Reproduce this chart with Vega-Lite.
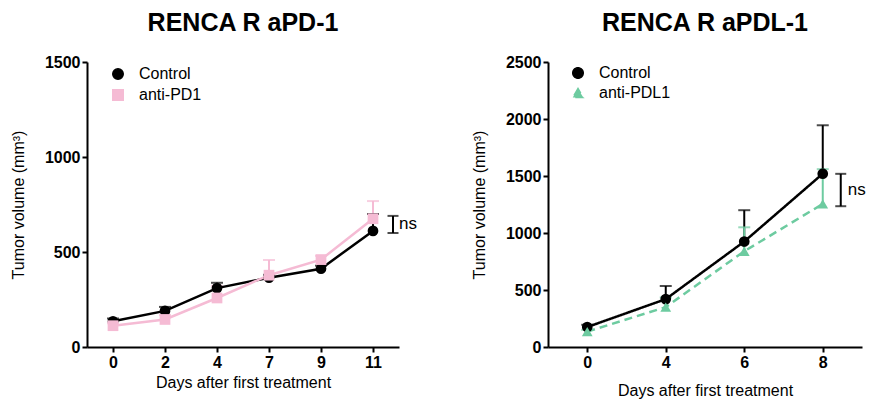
{
  "$schema": "https://vega.github.io/schema/vega-lite/v6.json",
  "padding": {"left": 10, "top": 11, "right": 5, "bottom": 5},
  "spacing": 54,
  "config": {
    "font": "Liberation Sans",
    "view": {"stroke": null},
    "axis": {"domainColor": "black", "domainWidth": 2, "tickColor": "black", "tickWidth": 2, "tickSize": 5, "labelFont": "Liberation Sans", "labelFontSize": 16, "labelFontWeight": "bold", "labelColor": "black", "titleFont": "Liberation Sans", "titleFontSize": 16, "titleFontWeight": "normal", "titleColor": "black", "grid": false, "labelPadding": 2, "format": "d"},
    "title": {"font": "Liberation Sans", "fontSize": 25, "fontWeight": "bold", "color": "black", "offset": 18},
    "legend": {"labelFont": "Liberation Sans", "labelFontSize": 16, "labelColor": "black", "symbolSize": 110, "symbolOpacity": 1, "padding": 0, "rowPadding": 3, "labelOffset": 13}
  },
  "datasets": {
    "pd1": [
      {"day": 0, "group": "Control", "mean": 135, "upper": 150},
      {"day": 2, "group": "Control", "mean": 190, "upper": 211},
      {"day": 4, "group": "Control", "mean": 310, "upper": 338},
      {"day": 7, "group": "Control", "mean": 365, "upper": 380},
      {"day": 9, "group": "Control", "mean": 412, "upper": 428},
      {"day": 11, "group": "Control", "mean": 611, "upper": 700},
      {"day": 0, "group": "anti-PD1", "mean": 112, "upper": 125},
      {"day": 2, "group": "anti-PD1", "mean": 145, "upper": 168},
      {"day": 4, "group": "anti-PD1", "mean": 258, "upper": 322},
      {"day": 7, "group": "anti-PD1", "mean": 378, "upper": 458},
      {"day": 9, "group": "anti-PD1", "mean": 460, "upper": 480},
      {"day": 11, "group": "anti-PD1", "mean": 675, "upper": 768}
    ],
    "pdl1": [
      {"day": 0, "group": "Control", "mean": 175, "upper": 195},
      {"day": 4, "group": "Control", "mean": 420, "upper": 535},
      {"day": 6, "group": "Control", "mean": 925, "upper": 1200},
      {"day": 8, "group": "Control", "mean": 1520, "upper": 1945},
      {"day": 0, "group": "anti-PDL1", "mean": 135, "upper": 150},
      {"day": 4, "group": "anti-PDL1", "mean": 350, "upper": 435},
      {"day": 6, "group": "anti-PDL1", "mean": 840, "upper": 1050},
      {"day": 8, "group": "anti-PDL1", "mean": 1255, "upper": 1560}
    ],
    "ns1": [{"day": 11, "low": 600, "high": 690, "mid": 645, "label": "ns"}],
    "ns2": [{"day": 8, "low": 1235, "high": 1519, "mid": 1377, "label": "ns"}]
  },
  "resolve": {"scale": {"x": "independent", "y": "independent", "color": "independent", "shape": "independent", "strokeDash": "independent"}, "legend": {"color": "independent", "shape": "independent"}},
  "hconcat": [
    {
      "width": 312,
      "height": 285,
      "title": {"text": "RENCA R aPD-1"},
      "data": {"name": "pd1"},
      "encoding": {
        "x": {"field": "day", "type": "ordinal", "scale": {"type": "point", "padding": 0.5}, "axis": {"labelAngle": 0, "labelPadding": 2, "title": "Days after first treatment", "titlePadding": 4}}
      },
      "layer": [
        {
          "mark": {"type": "rule", "strokeWidth": 2},
          "encoding": {
            "y": {"field": "mean", "type": "quantitative", "scale": {"domain": [0, 1500], "nice": false}, "axis": {"values": [0, 500, 1000, 1500], "title": "Tumor volume (mm³)", "titlePadding": 18}},
            "y2": {"field": "upper"},
            "color": {"field": "group", "type": "nominal", "scale": {"domain": ["Control", "anti-PD1"], "range": ["#000000", "#F5BBD4"]}}
          }
        },
        {
          "mark": {"type": "tick", "thickness": 2, "size": 12},
          "encoding": {
            "y": {"field": "upper", "type": "quantitative"},
            "color": {"field": "group", "type": "nominal"}
          }
        },
        {
          "mark": {"type": "line", "strokeWidth": 2.5},
          "encoding": {
            "y": {"field": "mean", "type": "quantitative"},
            "color": {"field": "group", "type": "nominal"}
          }
        },
        {
          "mark": {"type": "point", "filled": true, "opacity": 1},
          "encoding": {
            "y": {"field": "mean", "type": "quantitative"},
            "color": {"field": "group", "type": "nominal", "legend": {"title": null, "orient": "none", "legendX": 23, "legendY": 4}},
            "shape": {"field": "group", "type": "nominal", "scale": {"domain": ["Control", "anti-PD1"], "range": ["circle", "square"]}},
            "size": {"value": 115}
          }
        },
        {
          "data": {"name": "ns1"},
          "mark": {"type": "rule", "strokeWidth": 2, "color": "black", "xOffset": 20},
          "encoding": {"y": {"field": "low", "type": "quantitative"}, "y2": {"field": "high"}}
        },
        {
          "data": {"name": "ns1"},
          "mark": {"type": "tick", "thickness": 2, "size": 11, "color": "black", "xOffset": 20},
          "encoding": {"y": {"field": "low", "type": "quantitative"}}
        },
        {
          "data": {"name": "ns1"},
          "mark": {"type": "tick", "thickness": 2, "size": 11, "color": "black", "xOffset": 20},
          "encoding": {"y": {"field": "high", "type": "quantitative"}}
        },
        {
          "data": {"name": "ns1"},
          "mark": {"type": "text", "align": "left", "baseline": "middle", "dx": 26, "fontSize": 17, "font": "Liberation Sans", "color": "black"},
          "encoding": {"y": {"field": "mid", "type": "quantitative"}, "text": {"field": "label"}}
        }
      ]
    },
    {
      "width": 314,
      "height": 285,
      "title": {"text": "RENCA R aPDL-1"},
      "data": {"name": "pdl1"},
      "encoding": {
        "x": {"field": "day", "type": "ordinal", "scale": {"type": "point", "padding": 0.5}, "axis": {"labelAngle": 0, "labelPadding": 2, "title": "Days after first treatment", "titlePadding": 12}}
      },
      "layer": [
        {
          "mark": {"type": "rule", "strokeWidth": 2},
          "encoding": {
            "y": {"field": "mean", "type": "quantitative", "scale": {"domain": [0, 2500], "nice": false}, "axis": {"values": [0, 500, 1000, 1500, 2000, 2500], "title": "Tumor volume (mm³)", "titlePadding": 18}},
            "y2": {"field": "upper"},
            "color": {"field": "group", "type": "nominal", "scale": {"domain": ["Control", "anti-PDL1"], "range": ["#000000", "#6DCBA0"]}}
          }
        },
        {
          "mark": {"type": "tick", "thickness": 2, "size": 12},
          "encoding": {
            "y": {"field": "upper", "type": "quantitative"},
            "color": {"field": "group", "type": "nominal"}
          }
        },
        {
          "mark": {"type": "line", "strokeWidth": 2.5},
          "encoding": {
            "y": {"field": "mean", "type": "quantitative"},
            "color": {"field": "group", "type": "nominal"},
            "strokeDash": {"field": "group", "type": "nominal", "scale": {"domain": ["Control", "anti-PDL1"], "range": [[1, 0], [8, 5]]}, "legend": null}
          }
        },
        {
          "mark": {"type": "point", "filled": true, "opacity": 1},
          "encoding": {
            "y": {"field": "mean", "type": "quantitative"},
            "color": {"field": "group", "type": "nominal", "legend": {"title": null, "orient": "none", "legendX": 22, "legendY": 3}},
            "shape": {"field": "group", "type": "nominal", "scale": {"domain": ["Control", "anti-PDL1"], "range": ["circle", "triangle-up"]}},
            "size": {"value": 115}
          }
        },
        {
          "data": {"name": "ns2"},
          "mark": {"type": "rule", "strokeWidth": 2, "color": "black", "xOffset": 18},
          "encoding": {"y": {"field": "low", "type": "quantitative"}, "y2": {"field": "high"}}
        },
        {
          "data": {"name": "ns2"},
          "mark": {"type": "tick", "thickness": 2, "size": 11, "color": "black", "xOffset": 18},
          "encoding": {"y": {"field": "low", "type": "quantitative"}}
        },
        {
          "data": {"name": "ns2"},
          "mark": {"type": "tick", "thickness": 2, "size": 11, "color": "black", "xOffset": 18},
          "encoding": {"y": {"field": "high", "type": "quantitative"}}
        },
        {
          "data": {"name": "ns2"},
          "mark": {"type": "text", "align": "left", "baseline": "middle", "dx": 25, "fontSize": 17, "font": "Liberation Sans", "color": "black"},
          "encoding": {"y": {"field": "mid", "type": "quantitative"}, "text": {"field": "label"}}
        }
      ]
    }
  ]
}
